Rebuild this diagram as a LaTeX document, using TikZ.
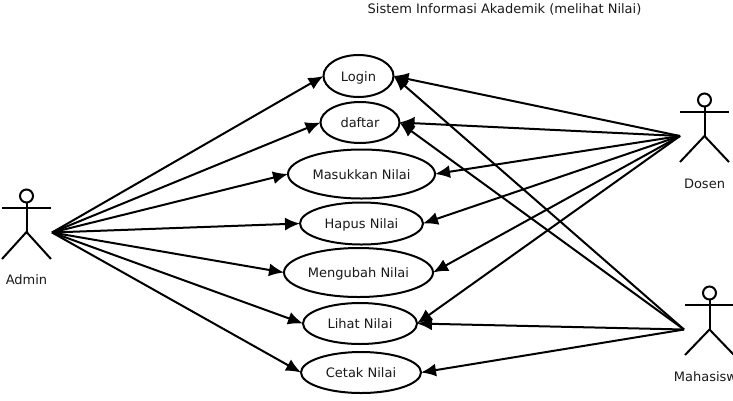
\documentclass[tikz,border=0pt]{standalone}
\usepackage{fontspec}
\setmainfont{DejaVu Sans}
\usetikzlibrary{arrows.meta, shapes.geometric}
\begin{document}
\begin{tikzpicture}[x=1pt, y=-1pt, line width=2pt,
  usecase/.style={ellipse, draw, inner sep=0pt, outer sep=0pt, text height=10pt, text depth=0pt, font=\fontsize{13pt}{15pt}\selectfont, text=black!90},
  label/.style={inner sep=0pt, font=\fontsize{13pt}{15pt}\selectfont, text=black!90},
  head/.style={circle, draw, inner sep=0pt, outer sep=0pt, minimum width=13pt},
  assoc/.style={-{Latex[length=15pt, width=13pt]}}]

\useasboundingbox (0,0) rectangle (733,400);
\clip (0,0) rectangle (733,400);

\node[label] (title) at (504.5,9.5) {Sistem Informasi Akademik (melihat Nilai)};

% Define the use cases
\node[usecase, minimum width=70pt, minimum height=42pt] (login) at (358.5,76) {Login};
\node[usecase, minimum width=79pt, minimum height=41pt] (daftar) at (360,122.5) {daftar};
\node[usecase, minimum width=147pt, minimum height=49pt] (masukkan) at (361.5,174) {Masukkan Nilai};
\node[usecase, minimum width=123pt, minimum height=42pt] (hapus) at (361.5,223.5) {Hapus Nilai};
\node[usecase, minimum width=149pt, minimum height=49pt] (mengubah) at (358.5,272.5) {Mengubah Nilai};
\node[usecase, minimum width=114pt, minimum height=41pt] (lihat) at (360,323.5) {Lihat Nilai};
\node[usecase, minimum width=120pt, minimum height=41pt] (cetak) at (361,372.5) {Cetak Nilai};

% Admin
\node[head] (adminhead) at (26.5,196) {};
\coordinate (adminhip) at (26.5,232);
\coordinate (adminout) at (52,232.5);
\draw (adminhead) -- (adminhip);
\draw (2,208) -- (51,208);
\draw (2,259) -- (adminhip) -- (51,259);
\node[label] (admin) at (26.5,279.5) {Admin};

% Dosen
\node[head] (dosenhead) at (704.5,100) {};
\coordinate (dosenhip) at (704.5,136);
\coordinate (dosenout) at (680,136);
\draw (dosenhead) -- (dosenhip);
\draw (680,112) -- (729,112);
\draw (680,162) -- (dosenhip) -- (729,162);
\node[label] (dosen) at (704.5,184) {Dosen};

% Mahasiswa
\node[head] (mhshead) at (709.5,293) {};
\coordinate (mhship) at (709.5,329.5);
\coordinate (mhsout) at (684,329.5);
\draw (mhshead) -- (mhship);
\draw (685,305) -- (734,305);
\draw (685,355) -- (mhship) -- (734,355);
\node[label] (mhs) at (709.5,377) {Mahasiswa};

% Draw the associations
\draw[assoc] (adminout) -- (login.west);
\draw[assoc] (adminout) -- (daftar.west);
\draw[assoc] (adminout) -- (masukkan.west);
\draw[assoc] (adminout) -- (hapus.west);
\draw[assoc] (adminout) -- (mengubah.west);
\draw[assoc] (adminout) -- (lihat.west);
\draw[assoc] (adminout) -- (cetak.west);

\draw[assoc] (dosenout) -- (login.east);
\draw[assoc] (dosenout) -- (daftar.east);
\draw[assoc] (dosenout) -- (masukkan.east);
\draw[assoc] (dosenout) -- (hapus.east);
\draw[assoc] (dosenout) -- (mengubah.east);
\draw[assoc] (dosenout) -- (lihat.east);

\draw[assoc] (mhsout) -- (login.east);
\draw[assoc] (mhsout) -- (daftar.east);
\draw[assoc] (mhsout) -- (lihat.east);
\draw[assoc] (mhsout) -- (cetak.east);

\end{tikzpicture}
\end{document}
